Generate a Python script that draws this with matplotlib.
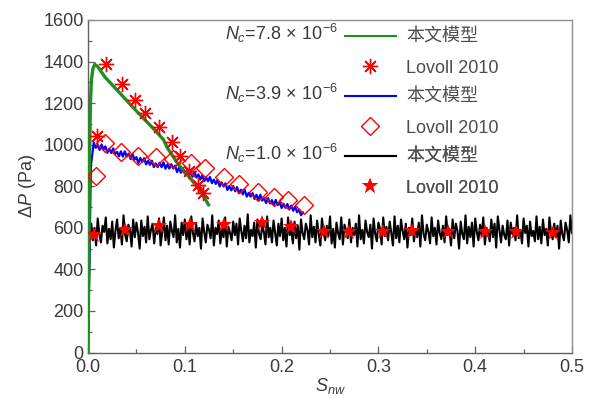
import numpy as np
import matplotlib
matplotlib.use("Agg")
import matplotlib.pyplot as plt
from matplotlib.lines import Line2D

plt.rcParams['font.family'] = ['Liberation Sans', 'Noto Sans CJK SC', 'DejaVu Sans']
plt.rcParams['mathtext.fontset'] = 'custom'
plt.rcParams['mathtext.rm'] = 'Liberation Sans'
plt.rcParams['mathtext.it'] = 'Liberation Sans:italic'
plt.rcParams['mathtext.bf'] = 'Liberation Sans:bold'

# ---------------- data ----------------
# Nc = 7.8e-6 model (green)
green_s = [0.0, 0.0008, 0.0015, 0.0025, 0.0035, 0.005, 0.007, 0.010, 0.0176, 0.031, 0.0486, 0.066,
           0.078, 0.082, 0.0934, 0.107, 0.1176, 0.1245]
green_p = [0, 400, 900, 1200, 1310, 1365, 1386, 1376, 1325, 1258, 1169, 1085,
           1024, 985, 904, 831, 767, 711]

# Nc = 7.8e-6 Lovoll 2010 (asterisks)
ast_s = [0.009, 0.0183, 0.0355, 0.0486, 0.059, 0.0734, 0.0865, 0.0951, 0.104, 0.114, 0.119]
ast_p = [1043, 1386, 1294, 1217, 1153, 1084, 1013, 947, 871, 807, 767]

# Nc = 3.9e-6 model (blue)
blue_s = [0.0, 0.003] + [round(0.006 + 0.002 * i, 3) for i in range(109)]
blue_p = [0, 900,
          1010, 985, 999, 975, 1001, 977, 992, 961, 981, 960,
          982, 955, 965, 944, 968, 943, 968, 943, 957, 931,
          956, 928, 940, 912, 936, 917, 935, 905, 923, 903,
          923, 892, 910, 892, 913, 892, 915, 884, 905, 885,
          906, 885, 899, 868, 889, 865, 888, 861, 872, 848,
          871, 846, 869, 842, 857, 832, 853, 824, 843, 824,
          845, 815, 832, 811, 831, 799, 819, 799, 814, 782,
          801, 780, 801, 776, 796, 766, 783, 761, 782, 750,
          768, 750, 767, 739, 759, 735, 759, 731, 742, 719,
          743, 717, 733, 710, 734, 709, 725, 695, 716, 696,
          715, 688, 707, 682, 702, 675, 688, 661, 674]

# Nc = 3.9e-6 Lovoll 2010 (diamonds)
dia_s = [0.0083, 0.0176, 0.0338, 0.052, 0.07, 0.0883, 0.1065, 0.121, 0.1406, 0.1565,
         0.176, 0.192, 0.207, 0.223]
dia_p = [847, 1008, 963, 944, 941, 931, 912, 888, 844, 810,
         770, 746, 735, 711]

# Nc = 1.0e-6 model (black)
black_p = [0,
    555, 620, 540, 600, 515, 645, 570, 530, 610, 580, 650, 525, 595, 545, 630, 505, 585, 640, 550, 600,
    520, 660, 565, 535, 615, 590, 510, 640, 555, 625, 575, 500, 635, 560, 605, 530, 655, 545, 590, 620,
    525, 600, 570, 645, 515, 580, 650, 540, 610, 520, 630, 585, 555, 660, 530, 595, 505, 625, 565, 640,
    545, 610, 520, 655, 575, 535, 620, 560, 600, 500, 645, 580, 530, 615, 590, 550, 660, 515, 600, 570,
    635, 525, 595, 555, 650, 510, 605, 575, 540, 630, 565, 620, 520, 645, 585, 535, 610, 550, 665, 530,
    590, 560, 625, 505, 640, 570, 545, 615, 580, 520, 655, 555, 600, 530, 635, 575, 515, 620, 560, 645,
    540, 600, 510, 650, 565, 585, 525, 630, 550, 610, 495, 640, 575, 545, 620, 590, 520, 660, 555, 605,
    530, 635, 570, 515, 645, 580, 540, 610, 560, 655, 525, 595, 505, 625, 575, 545, 650, 520, 615, 585,
    550, 640, 530, 600, 565, 620, 510, 660, 545, 590, 525, 635, 580, 555, 615, 500, 645, 570, 535, 625,
    595, 520, 650, 560, 605, 540, 630, 575, 515, 655, 550, 610, 530, 640, 585, 545, 620, 505, 600, 565,
    645, 535, 590, 555, 625, 510, 660, 570, 540, 615, 580, 525, 650, 560, 600, 520, 635, 575, 545, 610,
    530, 655, 565, 595, 515, 640, 550, 620, 585, 500, 630, 570, 545, 660, 525, 605, 555, 625, 510, 645,
    580, 540, 615, 560, 650, 520, 600, 575, 535, 640, 555, 620, 505, 655, 590, 530, 610, 565, 545, 635,
    515, 625, 570, 600, 540, 660, 550, 590, 525, 645, 575, 610, 510, 630, 560, 585, 535, 655, 545, 605,
    525, 640, 565, 595, 515, 650, 580, 545, 620, 555, 610, 500, 635, 570, 540, 625, 590, 530, 660, 575]
black_s = [0.0] + list(np.linspace(0.0017, 0.5, len(black_p) - 1))

# Nc = 1.0e-6 Lovoll 2010 (stars)
star_s = [0.0065, 0.038, 0.073, 0.105, 0.141, 0.18, 0.21, 0.244, 0.27, 0.305, 0.335, 0.372, 0.41, 0.442, 0.48]
star_p = [566, 590, 610, 614, 614, 624, 606, 582, 582, 580, 585, 580, 580, 580, 576]

nc_labels = [r'$N_c$=7.8$\,\times\,$10$^{-6}$', r'$N_c$=3.9$\,\times\,$10$^{-6}$',
             r'$N_c$=1.0$\,\times\,$10$^{-6}$']
model_label = '本文模型'
exp_label = 'Lovoll 2010'

x_ticks = [0.0, 0.1, 0.2, 0.3, 0.4, 0.5]
x_ticklabels = ['0.0', '0.1', '0.2', '0.3', '0.4', '0.5']
y_ticks = [0, 200, 400, 600, 800, 1000, 1200, 1400, 1600]

# ---------------- style ----------------
GREEN = '#1f8f1f'
BLUE = '#0000ff'
RED = '#ff0000'
TXT = '#3a3a3a'
LEGTXT = '#4d4d4d'
SPINE = '#606060'
FS = 13

fig = plt.figure(figsize=(5.94, 4.0), dpi=100)
ax = fig.add_axes([88 / 594, 1 - 352.5 / 400, (572 - 88) / 594, (352.5 - 20) / 400])

l_black, = ax.plot(black_s, black_p, color='black', lw=1.5, zorder=2)
l_blue, = ax.plot(blue_s, blue_p, color=BLUE, lw=1.6, zorder=3)
l_green, = ax.plot(green_s, green_p, color=GREEN, lw=2.4, zorder=4)

m_ast, = ax.plot(ast_s, ast_p, ls='none', marker=(8, 2, 0), ms=11, mew=1.0, color=RED, zorder=5)
m_dia, = ax.plot(dia_s, dia_p, ls='none', marker='D', ms=9, mew=1.0, mfc='none', mec=RED, zorder=5)
m_star, = ax.plot(star_s, star_p, ls='none', marker='*', ms=12, mew=0, color=RED, zorder=5)

ax.set_xlim(0, 0.5)
ax.set_ylim(0, 1600)
ax.set_xticks(x_ticks)
ax.set_xticklabels(x_ticklabels)
ax.set_yticks(y_ticks)
ax.set_xticks(np.arange(0.05, 0.5, 0.1), minor=True)
ax.set_yticks(np.arange(100, 1600, 200), minor=True)
ax.tick_params(which='both', direction='in', colors=SPINE, labelcolor=TXT, labelsize=FS)
ax.tick_params(which='major', length=5, width=0.9)
ax.tick_params(axis='x', which='major', pad=5)
ax.tick_params(axis='y', which='major', pad=3)
ax.tick_params(which='minor', length=3, width=0.9)
for sp in ax.spines.values():
    sp.set_color(SPINE)
    sp.set_linewidth(1.0)
ax.spines['top'].set_color('#909090')
ax.spines['right'].set_color('#909090')

ax.set_ylabel(r'$\Delta P$ (Pa)', fontsize=FS, color=TXT, labelpad=4)
ax.set_xlabel(r'$S_{nw}$', fontsize=FS, color=TXT, labelpad=0)

# legends (three groups)
groups = [(l_green, m_ast), (l_blue, m_dia), (l_black, m_star)]
row_y = [33, 93, 153]
for (ln, mk), y0, lab in zip(groups, row_y, nc_labels):
    hl = Line2D([], [], color=ln.get_color(), lw=1.5)
    hm = Line2D([], [], ls='none', marker=mk.get_marker(), ms=mk.get_markersize(),
                mew=mk.get_markeredgewidth(), mfc=mk.get_markerfacecolor(), mec=mk.get_markeredgecolor())
    leg = ax.legend([hl, hm], [model_label, exp_label], loc='upper left',
                    bbox_to_anchor=((345 - 88) / 484, 1 - (y0 - 20 - 4) / 332.5),
                    frameon=False, fontsize=FS, handlelength=2.8, handletextpad=0.6,
                    labelspacing=0.75, borderpad=0, borderaxespad=0, labelcolor=LEGTXT)
    ax.add_artist(leg)
    ax.text((338 - 88) / 484, 1 - (y0 - 20) / 332.5, lab, transform=ax.transAxes,
            ha='right', va='center', fontsize=FS, color=TXT)

fig.savefig('out.png', dpi=100)
